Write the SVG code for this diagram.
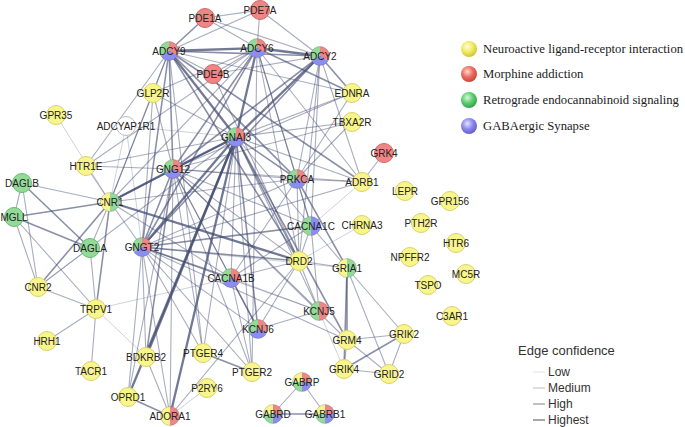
<svg xmlns="http://www.w3.org/2000/svg" width="685" height="427" viewBox="0 0 685 427">
<style>
.edges line{stroke:#434c72;stroke-linecap:round}
.e1 line{stroke-width:0.8;stroke-opacity:0.32}
.e2 line{stroke-width:1.1;stroke-opacity:0.46}
.e3 line{stroke-width:1.6;stroke-opacity:0.62}
.e4 line{stroke-width:2.3;stroke-opacity:0.75}
.node text{font-family:"Liberation Sans",Arial,sans-serif;font-size:10px;fill:#222;text-anchor:middle}
.y{fill:#f8f58c;stroke:#d8d36a;stroke-width:1}
.r{fill:#f08585;stroke:#cf6a6a;stroke-width:1}
.g{fill:#92da98;stroke:#6cbb74;stroke-width:1}
.w{fill:#fff;stroke:#bdbdbd;stroke-width:1}
.leg{font-family:"Liberation Serif","Times New Roman",serif;font-size:12.7px;fill:#222}
.conf{font-family:"Liberation Sans",Arial,sans-serif;fill:#333}
</style>
<defs>
<g id="pie3">
<path d="M0,0 L0,-9.5 A9.5,9.5 0 0,1 8.227,4.75 Z" fill="#f08585"/>
<path d="M0,0 L8.227,4.75 A9.5,9.5 0 0,1 -8.227,4.75 Z" fill="#8b8df0"/>
<path d="M0,0 L-8.227,4.75 A9.5,9.5 0 0,1 0,-9.5 Z" fill="#92da98"/>
<circle r="9.5" fill="none" stroke="#555" stroke-opacity="0.25"/>
</g>
<g id="pie4">
<path d="M0,0 L0,-9.5 A9.5,9.5 0 0,1 9.5,0 Z" fill="#f08585"/>
<path d="M0,0 L9.5,0 A9.5,9.5 0 0,1 0,9.5 Z" fill="#8b8df0"/>
<path d="M0,0 L0,9.5 A9.5,9.5 0 0,1 -9.5,0 Z" fill="#92da98"/>
<path d="M0,0 L-9.5,0 A9.5,9.5 0 0,1 0,-9.5 Z" fill="#f8f58c"/>
<circle r="9.5" fill="none" stroke="#555" stroke-opacity="0.25"/>
</g>
<g id="pieGY">
<path d="M0,-9.5 A9.5,9.5 0 0,1 0,9.5 Z" fill="#92da98"/>
<path d="M0,9.5 A9.5,9.5 0 0,1 0,-9.5 Z" fill="#f8f58c"/>
<circle r="9.5" fill="none" stroke="#555" stroke-opacity="0.25"/>
</g>
<g id="pieRY">
<path d="M0,-9.5 A9.5,9.5 0 0,1 0,9.5 Z" fill="#f08585"/>
<path d="M0,9.5 A9.5,9.5 0 0,1 0,-9.5 Z" fill="#f8f58c"/>
<circle r="9.5" fill="none" stroke="#555" stroke-opacity="0.25"/>
</g>
<g id="pieRG">
<path d="M0,-9.5 A9.5,9.5 0 0,1 0,9.5 Z" fill="#f08585"/>
<path d="M0,9.5 A9.5,9.5 0 0,1 0,-9.5 Z" fill="#92da98"/>
<circle r="9.5" fill="none" stroke="#555" stroke-opacity="0.25"/>
</g>
<g id="pieBG">
<path d="M0,-9.5 A9.5,9.5 0 0,1 0,9.5 Z" fill="#8b8df0"/>
<path d="M0,9.5 A9.5,9.5 0 0,1 0,-9.5 Z" fill="#92da98"/>
<circle r="9.5" fill="none" stroke="#555" stroke-opacity="0.25"/>
</g>
<radialGradient id="gy" cx="40%" cy="35%" r="65%"><stop offset="0" stop-color="#fffde0"/><stop offset="0.55" stop-color="#f1ea5e"/><stop offset="1" stop-color="#cfc43a"/></radialGradient>
<radialGradient id="gr" cx="40%" cy="35%" r="65%"><stop offset="0" stop-color="#ffd8d0"/><stop offset="0.55" stop-color="#ec6a5e"/><stop offset="1" stop-color="#c9473d"/></radialGradient>
<radialGradient id="gg" cx="40%" cy="35%" r="65%"><stop offset="0" stop-color="#d8f8dc"/><stop offset="0.55" stop-color="#5ccc70"/><stop offset="1" stop-color="#35a34c"/></radialGradient>
<radialGradient id="gb" cx="40%" cy="35%" r="65%"><stop offset="0" stop-color="#e2e2ff"/><stop offset="0.55" stop-color="#8a86ee"/><stop offset="1" stop-color="#6460c8"/></radialGradient>
</defs>
<rect width="685" height="427" fill="#fff"/>
<g id="connectors" class="edges">
<g class="e1">
<line x1="56" y1="115" x2="110" y2="202"/>
<line x1="126" y1="126" x2="110" y2="202"/>
<line x1="126" y1="126" x2="236" y2="137"/>
<line x1="126" y1="126" x2="142" y2="247"/>
<line x1="96" y1="309" x2="231" y2="278"/>
<line x1="96" y1="309" x2="146" y2="357"/>
<line x1="170" y1="416" x2="207" y2="388"/>
<line x1="362" y1="225" x2="299" y2="261"/>
<line x1="319" y1="311" x2="344" y2="369"/>
<line x1="362" y1="182" x2="311" y2="226"/>
<line x1="90" y1="248" x2="38" y2="287"/>
<line x1="231" y1="278" x2="319" y2="311"/>
<line x1="142" y1="247" x2="347" y2="268"/>
</g>
<g class="e2">
<line x1="205" y1="18" x2="260" y2="10"/>
<line x1="205" y1="18" x2="257" y2="48"/>
<line x1="205" y1="18" x2="320" y2="56"/>
<line x1="260" y1="10" x2="169" y2="51"/>
<line x1="260" y1="10" x2="257" y2="48"/>
<line x1="260" y1="10" x2="320" y2="56"/>
<line x1="213" y1="74" x2="169" y2="51"/>
<line x1="213" y1="74" x2="257" y2="48"/>
<line x1="213" y1="74" x2="320" y2="56"/>
<line x1="213" y1="74" x2="299" y2="261"/>
<line x1="169" y1="51" x2="352" y2="93"/>
<line x1="257" y1="48" x2="297" y2="179"/>
<line x1="320" y1="56" x2="297" y2="179"/>
<line x1="169" y1="51" x2="153" y2="93"/>
<line x1="257" y1="48" x2="153" y2="93"/>
<line x1="257" y1="48" x2="299" y2="261"/>
<line x1="320" y1="56" x2="299" y2="261"/>
<line x1="257" y1="48" x2="362" y2="182"/>
<line x1="320" y1="56" x2="362" y2="182"/>
<line x1="169" y1="51" x2="110" y2="202"/>
<line x1="257" y1="48" x2="110" y2="202"/>
<line x1="257" y1="48" x2="311" y2="226"/>
<line x1="320" y1="56" x2="311" y2="226"/>
<line x1="169" y1="51" x2="86" y2="166"/>
<line x1="257" y1="48" x2="86" y2="166"/>
<line x1="169" y1="51" x2="203" y2="353"/>
<line x1="257" y1="48" x2="252" y2="372"/>
<line x1="236" y1="137" x2="362" y2="182"/>
<line x1="236" y1="137" x2="352" y2="93"/>
<line x1="236" y1="137" x2="352" y2="122"/>
<line x1="236" y1="137" x2="153" y2="93"/>
<line x1="236" y1="137" x2="86" y2="166"/>
<line x1="236" y1="137" x2="38" y2="287"/>
<line x1="236" y1="137" x2="203" y2="353"/>
<line x1="236" y1="137" x2="252" y2="372"/>
<line x1="236" y1="137" x2="319" y2="311"/>
<line x1="236" y1="137" x2="231" y2="278"/>
<line x1="236" y1="137" x2="311" y2="226"/>
<line x1="173" y1="169" x2="297" y2="179"/>
<line x1="173" y1="169" x2="299" y2="261"/>
<line x1="173" y1="169" x2="362" y2="182"/>
<line x1="173" y1="169" x2="231" y2="278"/>
<line x1="173" y1="169" x2="311" y2="226"/>
<line x1="173" y1="169" x2="258" y2="329"/>
<line x1="173" y1="169" x2="319" y2="311"/>
<line x1="173" y1="169" x2="203" y2="353"/>
<line x1="173" y1="169" x2="252" y2="372"/>
<line x1="173" y1="169" x2="170" y2="416"/>
<line x1="173" y1="169" x2="128" y2="397"/>
<line x1="173" y1="169" x2="86" y2="166"/>
<line x1="173" y1="169" x2="153" y2="93"/>
<line x1="173" y1="169" x2="352" y2="93"/>
<line x1="173" y1="169" x2="352" y2="122"/>
<line x1="173" y1="169" x2="347" y2="340"/>
<line x1="142" y1="247" x2="110" y2="202"/>
<line x1="142" y1="247" x2="297" y2="179"/>
<line x1="142" y1="247" x2="258" y2="329"/>
<line x1="142" y1="247" x2="319" y2="311"/>
<line x1="142" y1="247" x2="146" y2="357"/>
<line x1="142" y1="247" x2="203" y2="353"/>
<line x1="142" y1="247" x2="252" y2="372"/>
<line x1="142" y1="247" x2="170" y2="416"/>
<line x1="142" y1="247" x2="128" y2="397"/>
<line x1="142" y1="247" x2="347" y2="340"/>
<line x1="142" y1="247" x2="362" y2="182"/>
<line x1="142" y1="247" x2="153" y2="93"/>
<line x1="297" y1="179" x2="311" y2="226"/>
<line x1="297" y1="179" x2="231" y2="278"/>
<line x1="297" y1="179" x2="299" y2="261"/>
<line x1="297" y1="179" x2="362" y2="182"/>
<line x1="297" y1="179" x2="352" y2="122"/>
<line x1="297" y1="179" x2="352" y2="93"/>
<line x1="297" y1="179" x2="110" y2="202"/>
<line x1="311" y1="226" x2="231" y2="278"/>
<line x1="311" y1="226" x2="299" y2="261"/>
<line x1="311" y1="226" x2="347" y2="268"/>
<line x1="311" y1="226" x2="319" y2="311"/>
<line x1="231" y1="278" x2="299" y2="261"/>
<line x1="231" y1="278" x2="252" y2="372"/>
<line x1="231" y1="278" x2="110" y2="202"/>
<line x1="299" y1="261" x2="347" y2="268"/>
<line x1="299" y1="261" x2="319" y2="311"/>
<line x1="299" y1="261" x2="258" y2="329"/>
<line x1="299" y1="261" x2="170" y2="416"/>
<line x1="319" y1="311" x2="258" y2="329"/>
<line x1="347" y1="268" x2="404" y2="334"/>
<line x1="347" y1="268" x2="389" y2="374"/>
<line x1="347" y1="340" x2="404" y2="334"/>
<line x1="347" y1="340" x2="344" y2="369"/>
<line x1="347" y1="340" x2="389" y2="374"/>
<line x1="404" y1="334" x2="389" y2="374"/>
<line x1="344" y1="369" x2="389" y2="374"/>
<line x1="302" y1="382" x2="273" y2="414"/>
<line x1="302" y1="382" x2="325" y2="414"/>
<line x1="110" y1="202" x2="86" y2="166"/>
<line x1="110" y1="202" x2="22" y2="183"/>
<line x1="110" y1="202" x2="90" y2="248"/>
<line x1="110" y1="202" x2="153" y2="93"/>
<line x1="22" y1="183" x2="14" y2="217"/>
<line x1="22" y1="183" x2="38" y2="287"/>
<line x1="14" y1="217" x2="38" y2="287"/>
<line x1="14" y1="217" x2="96" y2="309"/>
<line x1="90" y1="248" x2="96" y2="309"/>
<line x1="38" y1="287" x2="96" y2="309"/>
<line x1="96" y1="309" x2="47" y2="341"/>
<line x1="96" y1="309" x2="91" y2="371"/>
<line x1="146" y1="357" x2="170" y2="416"/>
<line x1="362" y1="182" x2="384" y2="153"/>
</g>
<g class="e3">
<line x1="205" y1="18" x2="169" y2="51"/>
<line x1="169" y1="51" x2="320" y2="56"/>
<line x1="257" y1="48" x2="352" y2="93"/>
<line x1="320" y1="56" x2="352" y2="93"/>
<line x1="169" y1="51" x2="173" y2="169"/>
<line x1="257" y1="48" x2="173" y2="169"/>
<line x1="320" y1="56" x2="173" y2="169"/>
<line x1="169" y1="51" x2="142" y2="247"/>
<line x1="257" y1="48" x2="142" y2="247"/>
<line x1="320" y1="56" x2="142" y2="247"/>
<line x1="169" y1="51" x2="297" y2="179"/>
<line x1="169" y1="51" x2="299" y2="261"/>
<line x1="169" y1="51" x2="362" y2="182"/>
<line x1="236" y1="137" x2="297" y2="179"/>
<line x1="236" y1="137" x2="110" y2="202"/>
<line x1="236" y1="137" x2="299" y2="261"/>
<line x1="236" y1="137" x2="258" y2="329"/>
<line x1="236" y1="137" x2="347" y2="340"/>
<line x1="173" y1="169" x2="142" y2="247"/>
<line x1="173" y1="169" x2="146" y2="357"/>
<line x1="142" y1="247" x2="299" y2="261"/>
<line x1="142" y1="247" x2="311" y2="226"/>
<line x1="142" y1="247" x2="231" y2="278"/>
<line x1="297" y1="179" x2="347" y2="268"/>
<line x1="231" y1="278" x2="258" y2="329"/>
<line x1="110" y1="202" x2="14" y2="217"/>
<line x1="110" y1="202" x2="38" y2="287"/>
<line x1="110" y1="202" x2="96" y2="309"/>
<line x1="22" y1="183" x2="90" y2="248"/>
<line x1="14" y1="217" x2="90" y2="248"/>
<line x1="347" y1="268" x2="347" y2="340"/>
<line x1="347" y1="268" x2="344" y2="369"/>
<line x1="203" y1="353" x2="252" y2="372"/>
<line x1="273" y1="414" x2="325" y2="414"/>
<line x1="128" y1="397" x2="170" y2="416"/>
<line x1="404" y1="334" x2="344" y2="369"/>
</g>
<g class="e4">
<line x1="169" y1="51" x2="257" y2="48"/>
<line x1="257" y1="48" x2="320" y2="56"/>
<line x1="169" y1="51" x2="236" y2="137"/>
<line x1="257" y1="48" x2="236" y2="137"/>
<line x1="320" y1="56" x2="236" y2="137"/>
<line x1="236" y1="137" x2="173" y2="169"/>
<line x1="236" y1="137" x2="142" y2="247"/>
<line x1="236" y1="137" x2="146" y2="357"/>
<line x1="236" y1="137" x2="128" y2="397"/>
<line x1="236" y1="137" x2="170" y2="416"/>
<line x1="110" y1="202" x2="173" y2="169"/>
<line x1="110" y1="202" x2="299" y2="261"/>
</g>
</g>
<g id="nodes">
<g id="PDE1A" class="node" transform="translate(205,18)"><circle r="9.5" class="r"/><text y="3.5">PDE1A</text></g>
<g id="PDE7A" class="node" transform="translate(260,10)"><circle r="9.5" class="r"/><text y="3.5">PDE7A</text></g>
<g id="ADCY9" class="node" transform="translate(169,51)"><use href="#pie3"/><text y="3.5">ADCY9</text></g>
<g id="ADCY6" class="node" transform="translate(257,48)"><use href="#pie3"/><text y="3.5">ADCY6</text></g>
<g id="ADCY2" class="node" transform="translate(320,56)"><use href="#pie3"/><text y="3.5">ADCY2</text></g>
<g id="PDE4B" class="node" transform="translate(213,74)"><circle r="9.5" class="r"/><text y="3.5">PDE4B</text></g>
<g id="GLP2R" class="node" transform="translate(153,93)"><circle r="9.5" class="y"/><text y="3.5">GLP2R</text></g>
<g id="EDNRA" class="node" transform="translate(352,93)"><circle r="9.5" class="y"/><text y="3.5">EDNRA</text></g>
<g id="GPR35" class="node" transform="translate(56,115)"><circle r="9.5" class="y"/><text y="3.5">GPR35</text></g>
<g id="TBXA2R" class="node" transform="translate(352,122)"><circle r="9.5" class="y"/><text y="3.5">TBXA2R</text></g>
<g id="ADCYAP1R1" class="node" transform="translate(126,126)"><circle r="9.5" class="w"/><text y="3.5">ADCYAP1R1</text></g>
<g id="GNAI3" class="node" transform="translate(236,137)"><use href="#pie3"/><text y="3.5">GNAI3</text></g>
<g id="GRK4" class="node" transform="translate(384,153)"><circle r="9.5" class="r"/><text y="3.5">GRK4</text></g>
<g id="HTR1E" class="node" transform="translate(86,166)"><circle r="9.5" class="y"/><text y="3.5">HTR1E</text></g>
<g id="GNG12" class="node" transform="translate(173,169)"><use href="#pie3"/><text y="3.5">GNG12</text></g>
<g id="PRKCA" class="node" transform="translate(297,179)"><use href="#pie3"/><text y="3.5">PRKCA</text></g>
<g id="ADRB1" class="node" transform="translate(362,182)"><circle r="9.5" class="y"/><text y="3.5">ADRB1</text></g>
<g id="DAGLB" class="node" transform="translate(22,183)"><circle r="9.5" class="g"/><text y="3.5">DAGLB</text></g>
<g id="LEPR" class="node" transform="translate(405,191)"><circle r="9.5" class="y"/><text y="3.5">LEPR</text></g>
<g id="GPR156" class="node" transform="translate(450,201)"><circle r="9.5" class="y"/><text y="3.5">GPR156</text></g>
<g id="CNR1" class="node" transform="translate(110,202)"><use href="#pieGY"/><text y="3.5">CNR1</text></g>
<g id="MGLL" class="node" transform="translate(14,217)"><circle r="9.5" class="g"/><text y="3.5">MGLL</text></g>
<g id="CACNA1C" class="node" transform="translate(311,226)"><use href="#pieBG"/><text y="3.5">CACNA1C</text></g>
<g id="CHRNA3" class="node" transform="translate(362,225)"><circle r="9.5" class="y"/><text y="3.5">CHRNA3</text></g>
<g id="PTH2R" class="node" transform="translate(421,223)"><circle r="9.5" class="y"/><text y="3.5">PTH2R</text></g>
<g id="HTR6" class="node" transform="translate(456,243)"><circle r="9.5" class="y"/><text y="3.5">HTR6</text></g>
<g id="GNGT2" class="node" transform="translate(142,247)"><use href="#pie3"/><text y="3.5">GNGT2</text></g>
<g id="DAGLA" class="node" transform="translate(90,248)"><circle r="9.5" class="g"/><text y="3.5">DAGLA</text></g>
<g id="NPFFR2" class="node" transform="translate(410,257)"><circle r="9.5" class="y"/><text y="3.5">NPFFR2</text></g>
<g id="DRD2" class="node" transform="translate(299,261)"><circle r="9.5" class="y"/><text y="3.5">DRD2</text></g>
<g id="GRIA1" class="node" transform="translate(347,268)"><use href="#pieGY"/><text y="3.5">GRIA1</text></g>
<g id="MC5R" class="node" transform="translate(466,274)"><circle r="9.5" class="y"/><text y="3.5">MC5R</text></g>
<g id="CACNA1B" class="node" transform="translate(231,278)"><use href="#pie3"/><text y="3.5">CACNA1B</text></g>
<g id="TSPO" class="node" transform="translate(428,285)"><circle r="9.5" class="y"/><text y="3.5">TSPO</text></g>
<g id="CNR2" class="node" transform="translate(38,287)"><circle r="9.5" class="y"/><text y="3.5">CNR2</text></g>
<g id="TRPV1" class="node" transform="translate(96,309)"><circle r="9.5" class="y"/><text y="3.5">TRPV1</text></g>
<g id="KCNJ5" class="node" transform="translate(319,311)"><use href="#pieRG"/><text y="3.5">KCNJ5</text></g>
<g id="C3AR1" class="node" transform="translate(452,316)"><circle r="9.5" class="y"/><text y="3.5">C3AR1</text></g>
<g id="KCNJ6" class="node" transform="translate(258,329)"><use href="#pie3"/><text y="3.5">KCNJ6</text></g>
<g id="GRIK2" class="node" transform="translate(404,334)"><circle r="9.5" class="y"/><text y="3.5">GRIK2</text></g>
<g id="GRM4" class="node" transform="translate(347,340)"><circle r="9.5" class="y"/><text y="3.5">GRM4</text></g>
<g id="HRH1" class="node" transform="translate(47,341)"><circle r="9.5" class="y"/><text y="3.5">HRH1</text></g>
<g id="PTGER4" class="node" transform="translate(203,353)"><circle r="9.5" class="y"/><text y="3.5">PTGER4</text></g>
<g id="BDKRB2" class="node" transform="translate(146,357)"><circle r="9.5" class="y"/><text y="3.5">BDKRB2</text></g>
<g id="GRIK4" class="node" transform="translate(344,369)"><circle r="9.5" class="y"/><text y="3.5">GRIK4</text></g>
<g id="TACR1" class="node" transform="translate(91,371)"><circle r="9.5" class="y"/><text y="3.5">TACR1</text></g>
<g id="PTGER2" class="node" transform="translate(252,372)"><circle r="9.5" class="y"/><text y="3.5">PTGER2</text></g>
<g id="GRID2" class="node" transform="translate(389,374)"><circle r="9.5" class="y"/><text y="3.5">GRID2</text></g>
<g id="GABRP" class="node" transform="translate(302,382)"><use href="#pie4"/><text y="3.5">GABRP</text></g>
<g id="P2RY6" class="node" transform="translate(207,388)"><circle r="9.5" class="y"/><text y="3.5">P2RY6</text></g>
<g id="OPRD1" class="node" transform="translate(128,397)"><circle r="9.5" class="y"/><text y="3.5">OPRD1</text></g>
<g id="GABRD" class="node" transform="translate(273,414)"><use href="#pie4"/><text y="3.5">GABRD</text></g>
<g id="GABRB1" class="node" transform="translate(325,414)"><use href="#pie4"/><text y="3.5">GABRB1</text></g>
<g id="ADORA1" class="node" transform="translate(170,416)"><use href="#pieRY"/><text y="3.5">ADORA1</text></g>
</g>
<g id="legend-pathways">
<circle cx="469" cy="49" r="8" fill="url(#gy)"/>
<text class="leg" x="483" y="53">Neuroactive ligand-receptor interaction</text>
<circle cx="469" cy="74" r="8" fill="url(#gr)"/>
<text class="leg" x="483" y="78">Morphine addiction</text>
<circle cx="469" cy="100" r="8" fill="url(#gg)"/>
<text class="leg" x="483" y="104">Retrograde endocannabinoid signaling</text>
<circle cx="469" cy="126" r="8" fill="url(#gb)"/>
<text class="leg" x="483" y="130">GABAergic Synapse</text>
</g>
<g id="legend-confidence">
<text class="conf" x="518" y="355" font-size="13">Edge confidence</text>
<line x1="533" y1="372" x2="545" y2="372" stroke="#ebebeb" stroke-width="1.5"/>
<line x1="533" y1="388" x2="545" y2="388" stroke="#d4d4d4" stroke-width="1.5"/>
<line x1="533" y1="404" x2="545" y2="404" stroke="#adadad" stroke-width="1.5"/>
<line x1="533" y1="420" x2="545" y2="420" stroke="#8a8a8a" stroke-width="1.5"/>
<text class="conf" x="548" y="376" font-size="12">Low</text>
<text class="conf" x="548" y="392" font-size="12">Medium</text>
<text class="conf" x="548" y="408" font-size="12">High</text>
<text class="conf" x="548" y="424" font-size="12">Highest</text>
</g>
</svg>
